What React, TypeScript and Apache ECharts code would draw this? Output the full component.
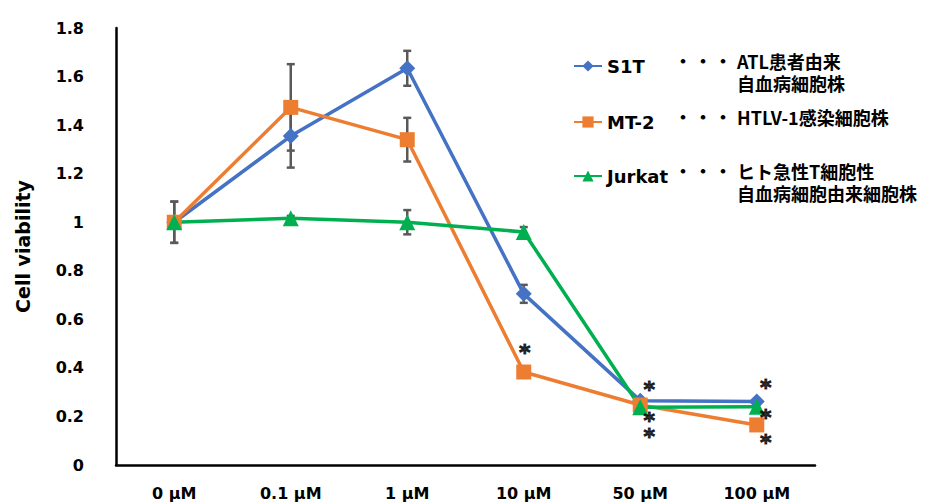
import React, { useEffect, useRef } from "react";
import * as echarts from "echarts";

const categories = ["0 µM", "0.1 µM", "1 µM", "10 µM", "50 µM", "100 µM"];
const seriesNames = ["S1T", "MT-2", "Jurkat"];
const s1tValues = [1.0, 1.355, 1.634, 0.705, 0.265, 0.262];
const mt2Values = [1.0, 1.473, 1.34, 0.383, 0.247, 0.165];
const jurkatValues = [1.0, 1.016, 1.0, 0.96, 0.238, 0.24];
const s1tErrors = [0.085, 0.13, 0.072, 0.037, 0.01, 0.01];
const mt2Errors = [0.085, 0.178, 0.09, 0.01, 0.01, 0.01];
const jurkatErrors = [0.02, 0.01, 0.05, 0.02, 0.01, 0.01];
const colors = ["#4472C4", "#ED7D31", "#00B050"];
const symbols = ["diamond", "rect", "triangle"];
const sigCategoryIdx = [3, 4, 4, 4, 5, 5, 5];
const sigValues = [0.486, 0.33, 0.204, 0.14, 0.34, 0.218, 0.112];
const descriptions = [
  ["ATL患者由来", "自血病細胞株"],
  ["HTLV-1感染細胞株"],
  ["ヒト急性T細胞性", "自血病細胞由来細胞株"],
];
const yTicks = { min: 0, max: 1.8, interval: 0.2 };

const FONT = "DejaVu Sans";
const JP = "Noto Sans CJK JP";

export default function App() {
  const ref = useRef<HTMLDivElement>(null);
  useEffect(() => {
    if (!ref.current) return;
    const chart = echarts.init(ref.current, null, { renderer: "svg" });
    const values = [s1tValues, mt2Values, jurkatValues];
    const errors = [s1tErrors, mt2Errors, jurkatErrors];

    const errorSeries = values.map((vals, si) => ({
      type: "custom",
      name: seriesNames[si] + " err",
      z: 1,
      silent: true,
      data: vals.map((v, i) => [i, v - errors[si][i], v + errors[si][i]]),
      renderItem: (params: any, api: any) => {
        const x = api.value(0);
        const lo = api.coord([x, api.value(1)]);
        const hi = api.coord([x, api.value(2)]);
        const hw = 4;
        const style = { stroke: "#595959", lineWidth: 2.5 };
        return {
          type: "group",
          children: [
            { type: "line", shape: { x1: lo[0], y1: lo[1], x2: hi[0], y2: hi[1] }, style },
            { type: "line", shape: { x1: lo[0] - hw, y1: lo[1], x2: lo[0] + hw, y2: lo[1] }, style },
            { type: "line", shape: { x1: hi[0] - hw, y1: hi[1], x2: hi[0] + hw, y2: hi[1] }, style },
          ],
        };
      },
    }));

    const lineSeries = values.map((vals, si) => ({
      type: "line",
      name: seriesNames[si],
      z: 3,
      data: vals,
      symbol: symbols[si],
      symbolSize: si === 1 ? 15 : 16,
      lineStyle: { color: colors[si], width: 3.5 },
      itemStyle: { color: colors[si] },
      color: colors[si],
    }));

    const legendTops = [52, 108, 162];
    const descTops = [62, 118, 172];

    const graphics: any[] = [];
    descriptions.forEach((lines, i) => {
      [0, 1, 2].forEach((k) => {
        graphics.push({
          type: "text",
          left: 674 + k * 20,
          top: descTops[i] - 11,
          style: { text: "・", font: `bold 18px "${JP}"`, fill: "#000" },
        });
      });
      graphics.push({
        type: "text",
        left: 737,
        top: descTops[i] - 12,
        style: {
          text: lines.join("\n"),
          font: `bold 18px "${JP}"`,
          lineHeight: 22,
          fill: "#000",
        },
      });
    });

    chart.setOption({
      animation: false,
      grid: { left: 116, right: 116, top: 28, bottom: 39 },
      legend: seriesNames.map((n, i) => ({
        data: [n],
        left: 568,
        top: legendTops[i],
        itemWidth: 28,
        itemHeight: 14,
        selectedMode: false,
        textStyle: { fontFamily: FONT, fontWeight: "bold", fontSize: 18, color: "#000" },
      })),
      xAxis: {
        type: "category",
        data: categories,
        boundaryGap: true,
        axisLine: { lineStyle: { color: "#000", width: 2.5 } },
        axisTick: { show: false },
        axisLabel: { fontFamily: FONT, fontWeight: "bold", fontSize: 16, color: "#000", margin: 20 },
      },
      yAxis: {
        type: "value",
        min: yTicks.min,
        max: yTicks.max,
        interval: yTicks.interval,
        name: "Cell viability",
        nameLocation: "middle",
        nameGap: 84,
        nameTextStyle: { fontFamily: FONT, fontWeight: "bold", fontSize: 19, color: "#000" },
        axisLine: { show: true, lineStyle: { color: "#000", width: 2.5 } },
        axisTick: { show: false },
        splitLine: { show: false },
        axisLabel: { fontFamily: FONT, fontWeight: "bold", fontSize: 16, color: "#000", margin: 32 },
      },
      series: [
        ...errorSeries,
        ...lineSeries,
        {
          type: "scatter",
          name: "sig",
          z: 4,
          symbolSize: 0,
          silent: true,
          data: sigCategoryIdx.map((c, i) => ({
            value: [c, sigValues[i]],
            label: { offset: [c >= 4 ? 9 : 1, 5] },
          })),
          label: {
            show: true,
            formatter: "*",
            position: "inside",
            fontFamily: FONT,
            fontWeight: "bold",
            fontSize: 22,
            lineHeight: 12,
            color: "#000",
            textBorderColor: "#000",
            textBorderWidth: 1,
          },
        },
      ],
      graphic: graphics,
    });
    return () => chart.dispose();
  }, []);
  return <div ref={ref} style={{ width: 931, height: 504, position: "absolute", left: 0, top: 0 }} />;
}
